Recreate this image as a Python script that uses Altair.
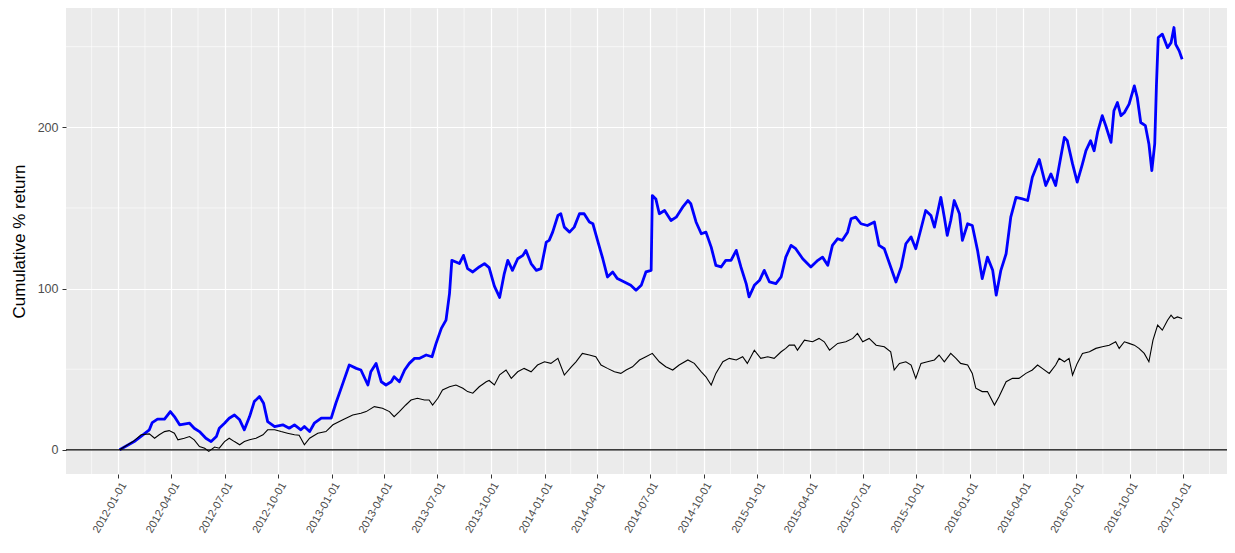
import altair as alt
import pandas as pd

START = pd.Timestamp("2012-01-01")

# Strategy (blue): day offset from 2012-01-01 and cumulative % return
strategy_day = [
    2, 27, 42, 53, 58, 67, 79, 89, 96, 105,
    122, 130, 139, 150, 159, 168, 173, 182, 190, 199,
    208, 216, 225, 233, 242, 249, 256, 268, 282, 293,
    302, 313, 319, 328, 336, 348, 365, 373, 385, 396,
    408, 416, 428, 433, 442, 451, 459, 468, 473, 482,
    491, 499, 508, 516, 528, 538, 545, 554, 562, 568,
    572, 579, 585, 592, 599, 608, 619, 628, 636, 645,
    654, 662, 668, 676, 685, 694, 699, 708, 717, 725,
    734, 739, 745, 754, 759, 765, 774, 782, 791, 799,
    808, 814, 822, 831, 839, 848, 856, 868, 879, 888,
    897, 905, 914, 916, 922, 928, 937, 948, 957, 968,
    977, 982, 991, 1000, 1008, 1017, 1025, 1034, 1042, 1051,
    1060, 1068, 1077, 1082, 1091, 1100, 1108, 1117, 1128, 1137,
    1145, 1154, 1162, 1174, 1188, 1200, 1208, 1217, 1225, 1234,
    1242, 1251, 1257, 1265, 1274, 1285, 1297, 1305, 1314, 1325,
    1334, 1343, 1351, 1360, 1368, 1377, 1385, 1394, 1400, 1405,
    1411, 1417, 1422, 1428, 1434, 1443, 1448, 1457, 1465, 1474,
    1482, 1491, 1500, 1506, 1514, 1523, 1531, 1540, 1551, 1560,
    1568, 1580, 1591, 1600, 1608, 1614, 1623, 1628, 1637, 1645,
    1654, 1660, 1668, 1674, 1680, 1688, 1694, 1703, 1708, 1714,
    1720, 1726, 1734, 1743, 1748, 1754, 1762, 1768, 1773, 1778,
    1781, 1784, 1791, 1800, 1806, 1811, 1814, 1820, 1825,
]
strategy_ret = [
    0, 5.1, 9.3, 12.4, 16.9, 19, 19, 23.7, 20.6, 15.5,
    16.5, 13.4, 11.3, 7.2, 5.1, 8.2, 13.4, 16.5, 19.6, 21.6,
    18.6, 12.4, 20.6, 29.9, 33, 28.9, 17.5, 14.4, 15.5, 13.4,
    15.5, 12.4, 14.4, 11.3, 16.5, 19.6, 19.6, 28.9, 41.2, 52.6,
    50.5, 49.5, 40.2, 48.4, 53.6, 42.2, 40.2, 42.2, 45.3, 42.2,
    49.5, 53.6, 56.7, 56.7, 58.8, 57.7, 66, 75.3, 80.4, 96.9,
    117.5, 116.5, 115.5, 120.6, 112.4, 110.3, 113.4, 115.5, 113, 101.5,
    94.5, 109.3, 117.5, 111.3, 118.5, 120.6, 123.7, 115.5, 111.3, 112.4,
    128.8, 129.9, 135, 145.3, 146.4, 138.1, 135, 138.1, 146.4, 146.4,
    141.3, 140.2, 129.9, 118.5, 107.2, 110.3, 106.2, 104.1, 102, 98.9,
    102, 110.3, 111.3, 157.7, 155.6, 146.4, 148.4, 142.2, 144.3, 150.5,
    154.6, 152.6, 141.3, 134, 135, 125.7, 114.4, 113.4, 117.5, 117.5,
    123.7, 113.4, 103.1, 94.8, 102, 105.1, 111.3, 104.1, 103.1, 107.2,
    119.5, 126.8, 124.7, 118.5, 113.4, 117.5, 119.5, 114.4, 126.8, 130.9,
    129.9, 135, 143.3, 144.3, 140.2, 139.1, 141.3, 126.8, 124.7, 113.4,
    104.1, 113.4, 127.8, 132, 124.7, 137.1, 148.4, 145.3, 138.1, 146.4,
    156.6, 144.3, 133, 142.2, 154.6, 146.4, 129.9, 140.2, 139.1, 123.7,
    106.2, 119.5, 111.3, 95.9, 111.3, 121.6, 144.3, 156.6, 155.6, 154.6,
    169, 180, 163.9, 171.1, 163.9, 176, 193.8, 191.7, 177.3, 166,
    177.3, 185.5, 191.7, 185.5, 197, 207.2, 201, 190.7, 210.3, 215.4,
    207.2, 209.2, 214.4, 225.7, 218.5, 203, 201, 189.7, 173.2, 189.7,
    226.8, 255.7, 257.8, 249.4, 252.5, 261.9, 251.5, 247.4, 242.2,
]

# Benchmark (black)
benchmark_day = [
    2, 25, 39, 53, 62, 70, 79, 87, 96, 102,
    113, 122, 130, 139, 148, 155, 165, 173, 182, 190,
    199, 208, 216, 225, 236, 248, 256, 268, 279, 290,
    302, 310, 319, 328, 342, 356, 368, 385, 402, 416,
    425, 439, 453, 465, 473, 482, 493, 502, 513, 525,
    533, 539, 548, 556, 568, 579, 591, 599, 608, 619,
    631, 636, 645, 654, 665, 674, 685, 696, 708, 719,
    731, 742, 754, 765, 777, 785, 796, 808, 819, 828,
    839, 851, 862, 871, 882, 894, 905, 916, 928, 939,
    951, 962, 977, 988, 1000, 1008, 1017, 1025, 1037, 1048,
    1060, 1071, 1079, 1091, 1102, 1114, 1125, 1137, 1145, 1151,
    1160, 1165, 1177, 1191, 1202, 1211, 1220, 1234, 1248, 1260,
    1268, 1277, 1288, 1300, 1314, 1325, 1331, 1340, 1351, 1360,
    1368, 1377, 1388, 1400, 1408, 1417, 1428, 1437, 1445, 1457,
    1465, 1471, 1482, 1491, 1503, 1511, 1523, 1534, 1545, 1557,
    1568, 1577, 1585, 1597, 1608, 1614, 1623, 1631, 1637, 1645,
    1654, 1666, 1677, 1688, 1700, 1711, 1717, 1726, 1734, 1743,
    1751, 1760, 1768, 1775, 1783, 1791, 1800, 1806, 1811, 1817, 1825,
]
benchmark_ret = [
    0, 5.1, 9.3, 9.9, 7.2, 9.3, 11.3, 11.9, 10.3, 6.2,
    7.2, 8.2, 6.2, 2, 1, -1, 1.7, 1, 5.1, 7.2,
    5.1, 3.1, 5.1, 6.2, 7.2, 9.3, 12.4, 12.4, 11.3, 10.3,
    9.3, 9, 3.1, 7.2, 10.3, 11.3, 15.5, 18.6, 21.6, 22.7,
    23.7, 26.8, 25.8, 23.7, 20.6, 23.7, 27.8, 30.9, 32, 30.9,
    30.9, 27.8, 32, 37.1, 39.1, 40.2, 38.2, 36.1, 35.1, 39.1,
    42.2, 43, 40.2, 46.5, 49.5, 44.3, 48.4, 50.5, 48.4, 52.6,
    54.6, 53.6, 56.7, 46.4, 51.5, 54.6, 59.8, 58.8, 57.7, 52.6,
    50.5, 48.4, 47.4, 49.5, 51.5, 55.7, 57.7, 59.8, 54.6, 51.5,
    49.5, 52.6, 55.7, 53.6, 48.4, 45.3, 40.2, 47.4, 54.6, 56.7,
    55.7, 57.7, 53.6, 61.8, 56.7, 57.7, 56.7, 60.8, 62.9, 64.9,
    64.9, 61.8, 68, 67, 69.1, 67, 61.8, 66, 67, 69.1,
    72.2, 67, 69.1, 64.9, 63.9, 60.8, 49.5, 53.6, 54.6, 52.6,
    44.3, 53.6, 54.6, 55.7, 58.8, 54.6, 59.8, 56.7, 53.6, 52.6,
    47.4, 38.2, 36.1, 36.1, 27.8, 33, 42.2, 44.3, 44.3, 47.4,
    49.5, 52.6, 50.5, 47.4, 52.6, 56.7, 54.6, 56.7, 46.4, 53.6,
    59.8, 60.8, 62.9, 63.9, 64.9, 67, 62.9, 67, 66, 64.9,
    62.9, 59.8, 54.6, 68, 77.3, 74.2, 80.4, 83.5, 81.4, 82.4, 81.4,
]

quarter_ticks = pd.date_range("2012-01-01", "2017-01-01", freq="QS")
y_ticks = [0, 100, 200]
y_minor = [50, 150, 250]
zero_line = [0]


def to_dates(days):
    return (START + pd.to_timedelta(days, unit="D")).strftime("%Y-%m-%d").tolist()


strat = pd.DataFrame({"date": to_dates(strategy_day), "ret": strategy_ret})
bench = pd.DataFrame({"date": to_dates(benchmark_day), "ret": benchmark_ret})

ext = pd.DatetimeIndex(
    [quarter_ticks[0] - pd.DateOffset(months=3)]
    + list(quarter_ticks)
    + [quarter_ticks[-1] + pd.DateOffset(months=3)]
)
mids = ext[:-1] + (ext[1:] - ext[:-1]) / 2
minor_x = pd.DataFrame({"date": mids.strftime("%Y-%m-%dT%H:%M:%SZ").tolist()})
minor_y = pd.DataFrame({"v": y_minor})
zero_df = pd.DataFrame({"v": zero_line})

FONT = "Liberation Sans"

x_scale = alt.Scale(
    type="utc",
    domain=[
        alt.DateTime(year=2011, month=10, date=3, utc=True),
        alt.DateTime(year=2017, month=3, date=17, utc=True),
    ],
    nice=False,
)
y_scale = alt.Scale(domain=[-15, 274], nice=False, zero=False)

x_axis = alt.Axis(
    values=[alt.DateTime(year=d.year, month=d.month, date=d.day, utc=True) for d in quarter_ticks],
    labelExpr="utcFormat(datum.value, '%Y-%m-%d')",
    labelAngle=-60,
    labelAlign="right",
    labelBaseline="top",
    labelFontSize=11,
    labelFont=FONT,
    labelColor="#4D4D4D",
    labelPadding=2,
    labelOverlap=False,
    labelFlush=False,
    labelBound=False,
    tickColor="#333333",
    tickSize=4,
    tickWidth=1,
    domain=False,
    grid=True,
    gridColor="white",
    gridWidth=1.2,
    title=None,
)
y_axis = alt.Axis(
    values=y_ticks,
    labelFontSize=12.5,
    labelFont=FONT,
    labelColor="#4D4D4D",
    labelPadding=4,
    tickColor="#333333",
    tickSize=4,
    tickWidth=1,
    domain=False,
    grid=True,
    gridColor="white",
    gridWidth=1.2,
    title="Cumulative % return",
    titleFont=FONT,
    titleFontSize=17,
    titleFontWeight="normal",
    titleColor="black",
    titleAngle=270,
    titleAlign="center",
    titleBaseline="middle",
    titleX=-47,
    titleY=233,
)

minor_x_layer = alt.Chart(minor_x).mark_rule(color="white", strokeWidth=0.6).encode(
    x=alt.X("date:T", scale=x_scale, axis=x_axis)
)
minor_y_layer = alt.Chart(minor_y).mark_rule(color="white", strokeWidth=0.6).encode(
    y=alt.Y("v:Q", scale=y_scale, axis=y_axis)
)
strat_layer = alt.Chart(strat).mark_line(color="#0000FF", strokeWidth=2.8, strokeJoin="round").encode(
    x=alt.X("date:T", scale=x_scale, axis=x_axis),
    y=alt.Y("ret:Q", scale=y_scale, axis=y_axis),
)
bench_layer = alt.Chart(bench).mark_line(color="black", strokeWidth=1.1).encode(
    x=alt.X("date:T", scale=x_scale, axis=x_axis),
    y=alt.Y("ret:Q", scale=y_scale, axis=y_axis),
)
zero_layer = alt.Chart(zero_df).mark_rule(color="black", strokeWidth=1.2).encode(
    y=alt.Y("v:Q", scale=y_scale, axis=y_axis)
)

chart = (
    alt.layer(minor_x_layer, minor_y_layer, strat_layer, bench_layer, zero_layer)
    .properties(
        width=1161,
        height=466,
        autosize=alt.AutoSizeParams(type="none"),
        padding={"left": 58, "top": 0, "right": 0, "bottom": 68},
        background="white",
    )
    .configure_view(fill="#EBEBEB", strokeWidth=0)
)

chart.save("out.html", embed_options={"renderer": "svg", "actions": False})
